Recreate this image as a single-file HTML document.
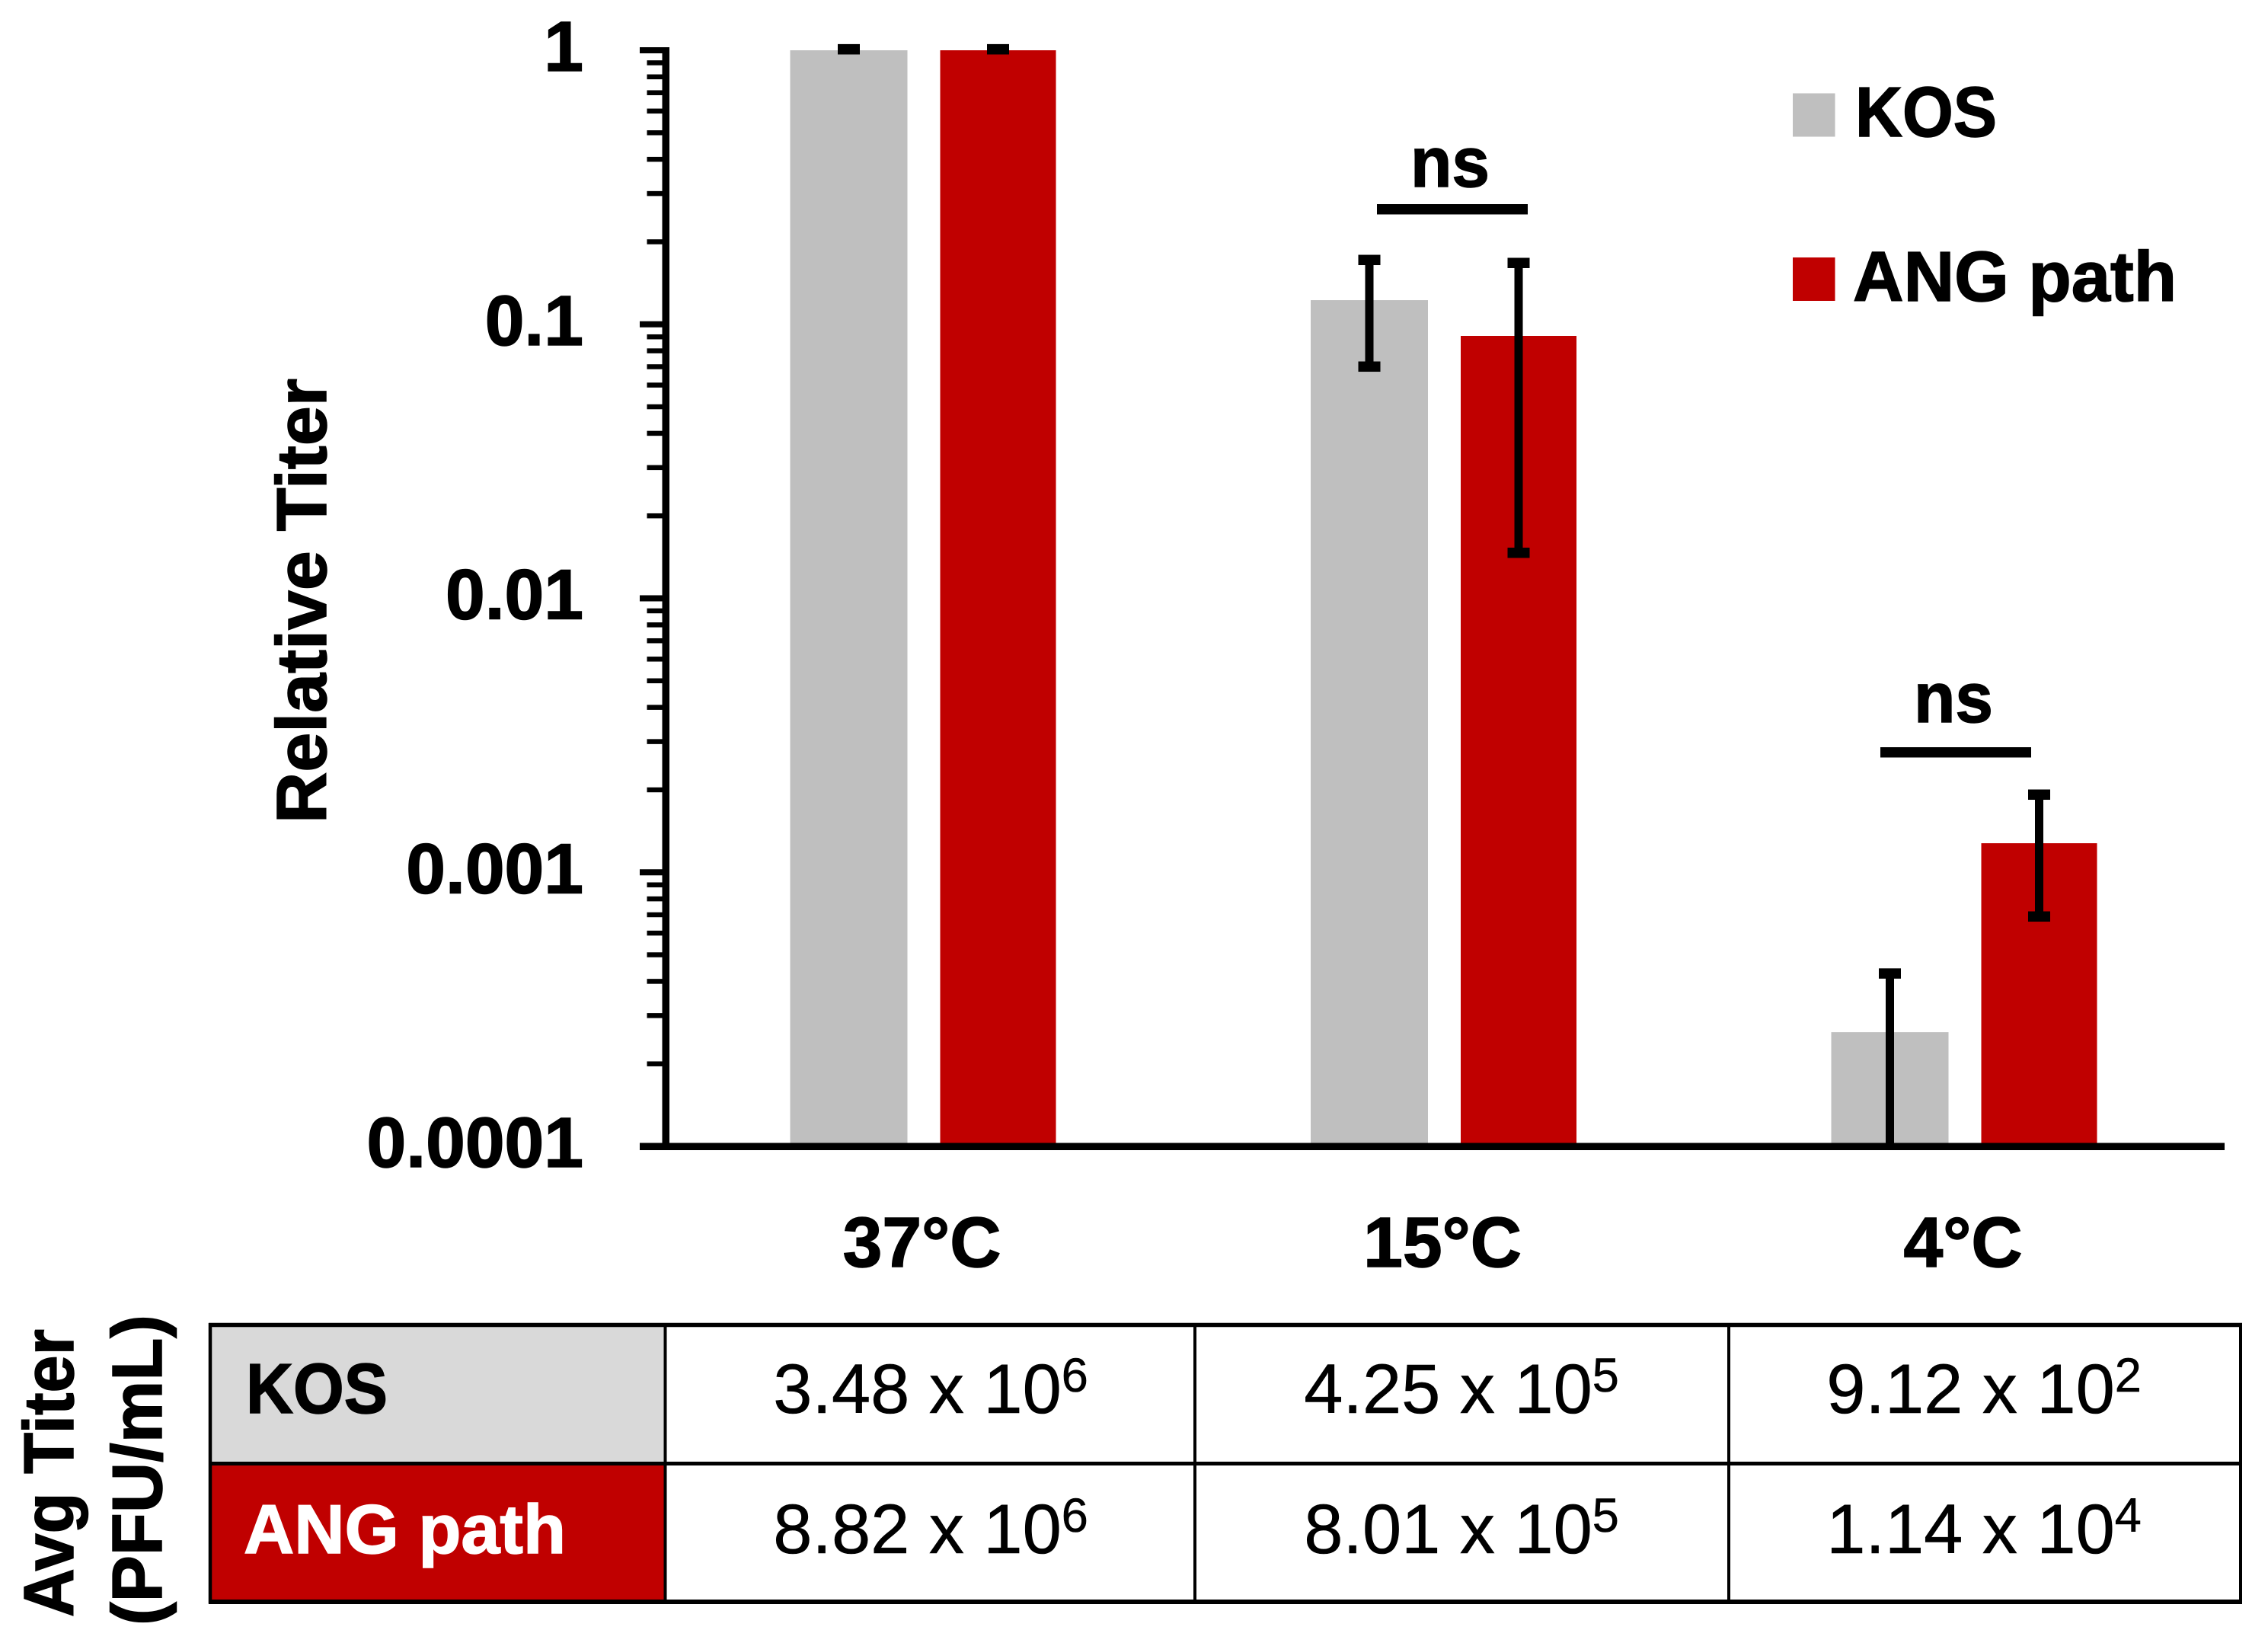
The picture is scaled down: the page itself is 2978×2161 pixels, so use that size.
<!DOCTYPE html>
<html lang="en">
<head>
<meta charset="utf-8">
<title>Relative Titer chart</title>
<style>
html,body{margin:0;padding:0;background:#fff;}
svg{display:block;}
text{font-family:"Liberation Sans",sans-serif;fill:#000;}
.b{font-weight:700;font-size:93px;stroke:#000;stroke-width:1.5px;}
.w{font-weight:700;font-size:91px;fill:#fff;stroke:#fff;stroke-width:1.5px;}
.r{font-weight:400;font-size:92px;text-anchor:middle;stroke:#000;stroke-width:.6px;}
.r tspan{font-size:63px;}
</style>
</head>
<body>
<svg id="chart" xmlns="http://www.w3.org/2000/svg" width="2978" height="2161" viewBox="0 0 2978 2161">
  <rect x="0" y="0" width="2978" height="2161" fill="#ffffff"/>
  <g id="bars"></g>
  <g id="axis"></g>
  <g id="errors"></g>
  <g id="xlabels"></g>

  <text class="b" transform="translate(428,1081) rotate(-90)" textLength="584" lengthAdjust="spacingAndGlyphs">Relative Titer</text>

  <rect x="1808" y="268" width="198" height="13.5" fill="#000"/>
  <text class="b" x="1852" y="245" textLength="104" lengthAdjust="spacingAndGlyphs">ns</text>
  <rect x="2469" y="981" width="198" height="13.5" fill="#000"/>
  <text class="b" x="2513" y="948" textLength="104" lengthAdjust="spacingAndGlyphs">ns</text>

  <g>
    <rect x="2354" y="122.5" width="55.5" height="57" fill="#bfbfbf"/>
    <text class="b" x="2436" y="179" textLength="186" lengthAdjust="spacingAndGlyphs">KOS</text>
    <rect x="2354" y="338" width="55.5" height="57" fill="#c00000"/>
    <text class="b" x="2433" y="395" textLength="425" lengthAdjust="spacingAndGlyphs">ANG path</text>
  </g>

  <g>
    <text class="b" transform="translate(96,2123) rotate(-90)" textLength="378" lengthAdjust="spacingAndGlyphs">Avg Titer</text>
    <text class="b" transform="translate(212,2134) rotate(-90)" textLength="408" lengthAdjust="spacingAndGlyphs">(PFU/mL)</text>
  </g>

  <g>
    <rect x="276" y="1739.5" width="597.5" height="182" fill="#d9d9d9"/>
    <rect x="276" y="1921.5" width="597.5" height="181.5" fill="#c00000"/>
    <g stroke="#000" fill="none">
      <line x1="274" y1="1739.5" x2="2944" y2="1739.5" stroke-width="5.5"/>
      <line x1="274" y1="1921.5" x2="2944" y2="1921.5" stroke-width="5"/>
      <line x1="274" y1="2103" x2="2944" y2="2103" stroke-width="6"/>
      <line x1="276" y1="1737" x2="276" y2="2105.5" stroke-width="4.5"/>
      <line x1="873.5" y1="1737" x2="873.5" y2="2105.5" stroke-width="4"/>
      <line x1="1569" y1="1737" x2="1569" y2="2105.5" stroke-width="4"/>
      <line x1="2270" y1="1737" x2="2270" y2="2105.5" stroke-width="4"/>
      <line x1="2942" y1="1737" x2="2942" y2="2105.5" stroke-width="4"/>
    </g>
    <text class="b" x="323" y="1855" textLength="186" lengthAdjust="spacingAndGlyphs">KOS</text>
    <text class="w" x="320" y="2039" textLength="423" lengthAdjust="spacingAndGlyphs">ANG path</text>
    <text class="r" x="1222" y="1855">3.48 x 10<tspan dy="-28">6</tspan></text>
    <text class="r" x="1919" y="1855">4.25 x 10<tspan dy="-28">5</tspan></text>
    <text class="r" x="2605" y="1855">9.12 x 10<tspan dy="-28">2</tspan></text>
    <text class="r" x="1222" y="2039">8.82 x 10<tspan dy="-28">6</tspan></text>
    <text class="r" x="1919" y="2039">8.01 x 10<tspan dy="-28">5</tspan></text>
    <text class="r" x="2605" y="2039">1.14 x 10<tspan dy="-28">4</tspan></text>
  </g>
</svg>
<script>
// Chart data
const categories = ["37°C", "15°C", "4°C"];
const kosValues = [1, 0.1225, 0.000261];
const angValues = [1, 0.0907, 0.001277];
const kosErrHigh = [1.01, 0.172, 0.000428];
const kosErrLow = [1.01, 0.0702, 0.00005];
const angErrHigh = [1.01, 0.1677, 0.001924];
const angErrLow = [1.01, 0.01468, 0.000691];
const yTicks = [1, 0.1, 0.01, 0.001, 0.0001];
const yTickLabels = ["1", "0.1", "0.01", "0.001", "0.0001"];
const minorMultiples = [2, 3, 4, 5, 6, 7, 8, 9];

// Axis functions
const AXIS_MIN = 0.0001;
const NS = "http://www.w3.org/2000/svg";
function yScale(v) { return 66 - 359.75 * Math.log10(v); }
function xGroup(i) { return 1212.5 + 683.5 * i; }
const baseY = yScale(AXIS_MIN);

function mk(tag, attrs, parent) {
  const el = document.createElementNS(NS, tag);
  for (const k in attrs) el.setAttribute(k, attrs[k]);
  parent.appendChild(el);
  return el;
}

const barsG = document.getElementById("bars");
const axisG = document.getElementById("axis");
const errG = document.getElementById("errors");
const xlabG = document.getElementById("xlabels");

function drawBar(series, i, value, center, width, fill) {
  const top = yScale(value);
  const r = mk("rect", {x: center - width / 2, y: top, width: width, height: baseY - top, fill: fill}, barsG);
  
  
}

function drawError(series, i, center, hi, lo) {
  const yHi = yScale(hi);
  const below = lo < AXIS_MIN;
  const yLo = below ? baseY : yScale(lo);
  const stem = mk("rect", {x: center - 5.5, y: yHi, width: 11, height: yLo - yHi, fill: "#000"}, errG);
  
  
  const capHi = mk("rect", {x: center - 14.5, y: yHi - 6.5, width: 29, height: 13.5, fill: "#000"}, errG);
  
  
  if (!below) {
    const capLo = mk("rect", {x: center - 14.5, y: yLo - 6.5, width: 29, height: 13.5, fill: "#000"}, errG);
    
    
  }
}

categories.forEach(function (cat, i) {
  const cx = xGroup(i);
  drawBar('kos', i, kosValues[i], cx - 98, 154, "#bfbfbf");
  drawBar('ang-path', i, angValues[i], cx + 98, 152, "#c00000");
  drawError('kos', i, cx - 98, kosErrHigh[i], kosErrLow[i]);
  drawError('ang-path', i, cx + 98, angErrHigh[i], angErrLow[i]);
  const t = mk("text", {x: cx - 2, y: 1663, "class": "b", "text-anchor": "middle"}, xlabG);
  
  
  t.textContent = cat;
});

// Y axis
yTicks.forEach(function (tick, i) {
  const y = yScale(tick);
  const major = mk("rect", {x: 840, y: y - 4, width: 34, height: 8, fill: "#000"}, axisG);
  
  
  const label = mk("text", {x: 766, y: y + 27, "class": "b", "text-anchor": "end"}, axisG);
  
  
  label.textContent = yTickLabels[i];
  if (tick > AXIS_MIN) {
    minorMultiples.forEach(function (m) {
      const minorY = yScale(tick / 10 * m);
      const minor = mk("rect", {x: 849.5, y: minorY - 3.25, width: 24, height: 6.5, fill: "#000"}, axisG);
      
      
    });
  }
});

const spine = mk("rect", {x: 869.5, y: yScale(1) - 4, width: 9.5, height: baseY - yScale(1) + 8, fill: "#000"}, axisG);



const xLine = mk("rect", {x: 840, y: baseY - 4.5, width: 2081, height: 9.5, fill: "#000"}, axisG);


</script>
</body>
</html>
